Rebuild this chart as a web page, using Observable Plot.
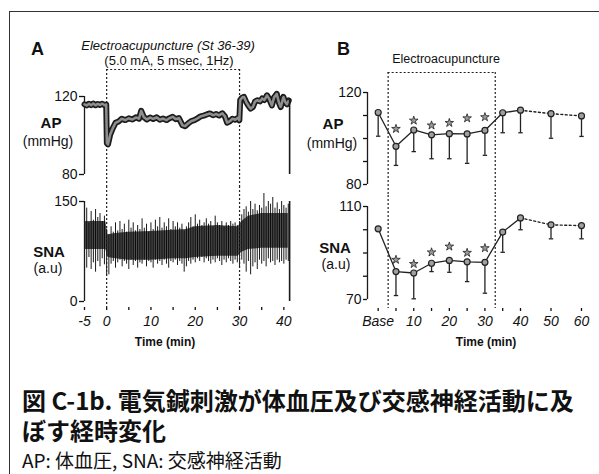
<!DOCTYPE html>
<html><head><meta charset="utf-8">
<script src="https://cdn.jsdelivr.net/npm/d3@7"></script>
<script src="https://cdn.jsdelivr.net/npm/@observablehq/plot@0.6"></script>
<style>
html,body{margin:0;padding:0;background:#fff;}
#wrap{position:relative;width:599px;height:474px;overflow:hidden;font-family:"Liberation Sans",Arial,sans-serif;color:#111;background:#fff;}
#wrap svg{overflow:hidden;}
.t{position:absolute;white-space:nowrap;line-height:1;}
.c{transform:translateX(-50%);}
g[aria-label="x-axis tick label"] text{font-style:italic;}
</style></head><body><div id="wrap"></div>
<script>
// ---------------- DATA ----------------
// Panel A: arterial pressure raw trace [time (min), mmHg]
const apTraceA = [[-5,116],[-4.5,115.4],[-4,116.3],[-3.5,115.6],[-3,116.4],[-2.5,115.5],[-2,116.2],[-1.5,115.7],[-1,116.3],[-0.5,115.6],[-0.1,115.9],
 [0.05,96],[0.3,95.5],[0.8,100.5],[1.4,103.8],[2,106.5],[2.7,107.2],[3.4,108.6],[4.2,107.9],[5,108.8],[5.8,108.2],[6.6,109.3],[7.3,108.6],[7.8,112.6],[8.4,109.4],[9.1,108.2],[9.8,109.2],[10.5,108.5],[11.3,109.3],[12,108.1],[12.7,108.7],[13.5,107.9],[14.2,108.9],[14.9,109.6],[15.6,108.4],[16.3,108.9],[17.1,105.3],[17.7,104.8],[18.4,106.2],[19.1,107.4],[19.8,107.9],[20.5,108.8],[21.2,109.8],[21.9,110.2],[22.6,110.8],[23.3,111.3],[24,110.4],[24.7,111],[25.4,110.3],[26.1,111.4],[26.7,109.8],[27.2,106.6],[27.8,107.3],[28.4,108.6],[29,108.1],[29.6,109],[29.95,107.8],
 [30.15,118.2],[30.6,119.5],[31,119.8],[31.5,117.2],[32,115.3],[32.5,113.8],[33,114.6],[33.5,117.4],[34,118.1],[34.6,117.5],[35.1,119],[35.6,118.2],[36.2,120.6],[36.7,118.7],[37.3,115.4],[37.8,119.6],[38.4,121.3],[38.9,116.8],[39.3,114.6],[39.9,119.8],[40.3,117.2],[40.7,116],[41.1,118]];

// Panel A: sympathetic nerve activity raw trace [time, low, high]
const snaA = [[-5,62,128],[-4.5,50,140],[-4,66,118],[-3.5,48,135],[-3,58,122],[-2.5,44,138],[-2,60,126],[-1.5,52,132],[-1,64,120],[-0.5,55,128],
 [0,38,108],[0.5,40,100],[1,56,112],[1.5,60,104],[2,50,118],[2.5,58,106],[3,62,120],[3.5,52,108],[4,60,116],[4.5,56,104],[5,48,122],[5.5,62,110],[6,54,118],[6.5,60,106],[7,50,114],[7.5,58,108],[8,56,124],[8.5,62,110],[9,52,116],[9.5,60,104],
 [10,58,118],[10.5,50,108],[11,62,122],[11.5,56,112],[12,60,126],[12.5,54,110],[13,62,118],[13.5,56,112],[14,50,124],[14.5,60,108],[15,58,120],[15.5,62,112],[16,54,118],[16.5,60,110],[17,56,116],[17.5,44,106],[18,52,112],[18.5,60,118],[19,56,126],[19.5,62,112],
 [20,58,130],[20.5,64,116],[21,60,122],[21.5,66,114],[22,58,118],[22.5,64,124],[23,60,116],[23.5,56,120],[24,62,112],[24.5,58,128],[25,64,118],[25.5,60,114],[26,54,120],[26.5,62,112],[27,58,118],[27.5,64,114],[28,60,120],[28.5,56,116],[29,62,118],[29.5,58,114],
 [30,50,120],[30.5,62,130],[31,56,138],[31.5,44,142],[32,60,134],[32.5,40,150],[33,52,138],[33.5,58,146],[34,48,136],[34.5,62,144],[35,56,140],[35.5,60,162],[36,52,142],[36.5,64,150],[37,58,146],[37.5,60,156],[38,54,140],[38.5,62,148],[39,58,138],[39.5,60,150],[40,56,144],[40.5,62,140],[41,60,146]];
// dense core of the SNA band [time, low, high]
const snaCoreA = [[-5,78,120],[-0.2,78,120],[0.3,66,100],[2,64,102],[5,62,104],[10,62,105],[15,64,107],[18,64,108],[20,66,112],[25,68,114],[29.7,68,112],[30.5,74,120],[32,78,128],[35,80,132],[38,80,132],[41,80,132]];

const stimA = [0, 30];          // electroacupuncture period (min)
const recordEndA = 41.3;       // end of recording (min)
const xTicksA = [-5,0,5,10,15,20,25,30,35,40];
const xTickLabelsA = ["-5","0","","10","","20","","30","","40"];
const apTicksA = [80,120];
const snaTicksA = [0,150];

// Panel B: group means
const bTime = [0,5,10,15,20,25,30,35,40,50,60];
const bTickLabels = ["Base","","10","","20","","30","","40","50","60"];
const apMean = [111.3,96.6,103.7,101.6,102.1,102.0,103.5,111.2,112.3,110.8,109.8];
const apLow  = [101.0,88.3,94.3,91.2,91.2,89.2,92.7,102.5,102.5,100.1,100.9];
const apStar = [null,104.2,107.8,105.7,106.8,108.8,109.3,null,null,null,null];
const snaMean = [100.4,82.0,81.4,85.6,86.8,86.2,86.0,99.0,105.1,102.1,101.8];
const snaLow  = [null,71.7,70.3,82.0,81.7,77.7,72.7,90.3,100.0,96.1,96.1];
const snaStar = [null,87.1,85.3,90.3,92.8,90.1,92.1,null,null,null,null];
const solidUntil = 40;          // measured line is solid up to 40 min, dotted afterwards
const stimB = [2.8, 32.9];
const apTicksB = [80,90,100,110,120];
const snaTicksB = [70,80,90,100,110];

// ---------------- DRAW ----------------
const wrap = document.getElementById("wrap");
function put(node, left, top){ node.style.position="absolute"; node.style.left=left+"px"; node.style.top=top+"px"; wrap.appendChild(node); }
function txt(s, left, top, css, center){ const d=document.createElement("div"); d.className="t"+(center?" c":""); d.textContent=s; d.style.cssText += css||""; put(d,left,top); return d; }

const style = {fontFamily:"'Liberation Sans', Arial, sans-serif", fontSize:"14px", background:"transparent", color:"#111", overflow:"hidden"};
const ink = "#1a1a1a";
const dash = {stroke:"#222", strokeWidth:1.2, strokeDasharray:"2,2"};
const endLabels = ticks => (d => (d===ticks[0]||d===ticks[ticks.length-1]) ? String(d) : "");
const capSymbol = {draw(ctx, size){ const w=Math.sqrt(size/Math.PI); ctx.moveTo(-w,0); ctx.lineTo(w,0); }};
const lblA = new Map(xTicksA.map((d,i)=>[d, xTickLabelsA[i]]));
const lblB = new Map(bTime.map((d,i)=>[d, bTickLabels[i]]));
const bIdx = bTime.map((_,i)=>i);

const topA = 186; // split between upper (AP) and lower (SNA) plots, panel A
const topB = 195; // same for panel B

// Panel A geometry
const xA = {domain:[-5, 41.5], range:[84, 290]};

// A - AP
put(Plot.plot({
  width:300, height:topA, marginLeft:84, marginRight:10, marginTop:96, marginBottom:topA-174, style,
  x:{...xA, axis:null}, y:{domain:[80,120], axis:null},
  marks:[
    Plot.ruleX([xA.domain[0]], {y1:80, y2:120, stroke:ink, strokeWidth:1.3}),
    Plot.axisY({ticks:apTicksA, tickSize:5, tickPadding:2, tickFormat:d=>String(d), strokeWidth:1.3}),
    Plot.ruleY([120], {x1:stimA[0], x2:stimA[1], dy:-27, ...dash}),
    Plot.ruleX(stimA, {insetTop:-27, insetBottom:-(topA-174), ...dash}),
    Plot.line(apTraceA, {x:d=>d[0], y:d=>d[1], stroke:"#1b1b1b", strokeWidth:6, strokeLinejoin:"round"}),
    Plot.line(apTraceA, {x:d=>d[0], y:d=>d[1], stroke:"#8e8e8e", strokeWidth:2.6, strokeLinejoin:"round", strokeDasharray:"1.5,1"}),
    Plot.ruleX([recordEndA], {y1:80, y2:apTraceA[apTraceA.length-1][1], stroke:ink, strokeWidth:1.6})
  ]
}), 0, 0);

// A - SNA
put(Plot.plot({
  width:300, height:340-topA, marginLeft:84, marginRight:10, marginTop:201-topA, marginBottom:340-307, style,
  x:{...xA}, y:{domain:[0,150], insetBottom:6, axis:null},
  marks:[
    Plot.areaY(snaCoreA, {x:d=>d[0], y1:d=>d[1], y2:d=>d[2], fill:"#4e4e4e"}),
    Plot.ruleX(snaA, {x:d=>d[0], y1:d=>d[1], y2:d=>d[2], stroke:"#000", strokeWidth:0.9}),
    Plot.ruleX([recordEndA], {y1:0, y2:150, stroke:ink, strokeWidth:1.6}),
    Plot.ruleX(stimA, {insetTop:-(201-topA), ...dash}),
    Plot.ruleX([xA.domain[0]], {y1:0, y2:150, stroke:ink, strokeWidth:1.3}),
    Plot.axisY({ticks:snaTicksA, tickSize:5, tickPadding:2, tickFormat:d=>String(d), strokeWidth:1.3}),
    Plot.axisX({ticks:xTicksA, tickFormat:d=>lblA.get(d) ?? "", tickSize:3, tickPadding:6, line:true, strokeWidth:1.3, fontStyle:"italic"})
  ]
}), 0, topA);

// Panel B geometry (piecewise time axis)
const xB = {type:"linear", domain:[-3, 40, 60], range:[67, 220, 281]};

function meanMarks(mean, low, star){
  const solid = bIdx.filter(i => bTime[i] <= solidUntil);
  const dotted = bIdx.filter(i => bTime[i] >= solidUntil);
  const withLow = bIdx.filter(i => low[i] != null);
  const withStar = bIdx.filter(i => star[i] != null);
  return [
    Plot.ruleX(withLow, {x:i=>bTime[i], y1:i=>mean[i], y2:i=>low[i], stroke:"#222", strokeWidth:1.3}),
    Plot.dot(withLow, {x:i=>bTime[i], y:i=>low[i], symbol:capSymbol, r:2.2, stroke:"#222", strokeWidth:1.3, fill:"none"}),
    Plot.line(solid, {x:i=>bTime[i], y:i=>mean[i], stroke:"#222", strokeWidth:1.3}),
    Plot.line(dotted, {x:i=>bTime[i], y:i=>mean[i], stroke:"#222", strokeWidth:1.4, strokeDasharray:"2,2.5"}),
    Plot.dot(bIdx, {x:i=>bTime[i], y:i=>mean[i], r:3, fill:"#a0a0a0", stroke:"#222", strokeWidth:1.2}),
    Plot.dot(withStar, {x:i=>bTime[i], y:i=>star[i], symbol:"star", r:2.7, fill:"#9a9a9a", stroke:"#222", strokeWidth:0.8})
  ];
}

// B - AP
put(Plot.plot({
  width:299, height:topB, marginLeft:67, marginRight:14, marginTop:92, marginBottom:topB-184, style,
  x:{...xB, axis:null}, y:{domain:[80,120], axis:null},
  marks:[
    Plot.ruleX([xB.domain[0]], {y1:80, y2:120, stroke:ink, strokeWidth:1.3}),
    Plot.axisY({ticks:apTicksB, tickSize:4, tickPadding:2, tickFormat:endLabels(apTicksB), strokeWidth:1.3}),
    Plot.ruleY([120], {x1:stimB[0], x2:stimB[1], dy:-20, ...dash}),
    Plot.ruleX(stimB, {insetTop:-20, insetBottom:-(topB-184), ...dash}),
    ...meanMarks(apMean, apLow, apStar)
  ]
}), 300, 0);

// B - SNA
put(Plot.plot({
  width:299, height:340-topB, marginLeft:67, marginRight:14, marginTop:206-topB, marginBottom:340-308, style,
  x:{...xB}, y:{domain:[70,110], insetBottom:9, axis:null},
  marks:[
    Plot.ruleX(stimB, {insetTop:-(206-topB), ...dash}),
    Plot.ruleX([xB.domain[0]], {y1:70, y2:110, stroke:ink, strokeWidth:1.3}),
    Plot.axisY({ticks:snaTicksB, tickSize:4, tickPadding:2, tickFormat:endLabels(snaTicksB), strokeWidth:1.3}),
    Plot.axisX({ticks:bTime, tickFormat:d=>lblB.get(d) ?? "", tickSize:3, tickPadding:5, line:true, strokeWidth:1.3, fontStyle:"italic"}),
    ...meanMarks(snaMean, snaLow, snaStar)
  ]
}), 300, topB);

// ---------------- TEXT ----------------
const frame = document.createElement("div");
frame.style.cssText = "border-top:1px solid #333;border-left:1px solid #333;width:600px;height:480px;";
put(frame, 9, 11);

txt("A", 31, 40, "font-size:18px;font-weight:bold;");
txt("B", 337, 40, "font-size:18px;font-weight:bold;");
txt("Electroacupuncture (St 36-39)", 168, 39, "font-size:13px;font-style:italic;", true);
txt("(5.0 mA, 5 msec, 1Hz)", 169, 54, "font-size:13px;", true);
txt("Electroacupuncture", 446, 53, "font-size:12.5px;", true);
txt("AP", 51, 115, "font-size:15px;font-weight:bold;", true);
txt("(mmHg)", 48, 134, "font-size:14px;", true);
txt("AP", 333, 116, "font-size:15px;font-weight:bold;", true);
txt("(mmHg)", 332, 136, "font-size:14px;", true);
txt("SNA", 49, 244, "font-size:15px;font-weight:bold;", true);
txt("(a.u)", 48, 261, "font-size:14px;", true);
txt("SNA", 335, 240, "font-size:15px;font-weight:bold;", true);
txt("(a.u)", 336, 257, "font-size:14px;", true);
txt("Time (min)", 165, 336, "font-size:12px;font-weight:bold;", true);
txt("Time (min)", 486, 336, "font-size:12px;font-weight:bold;", true);

const cj = "font-family:'Noto Sans CJK JP',sans-serif;";
// caption title: one text that wraps onto a second line
txt("図 C-1b. 電気鍼刺激が体血圧及び交感神経活動に及ぼす経時変化", 22, 385,
    cj+"font-size:24px;font-weight:bold;line-height:30px;white-space:normal;width:566px;");
txt("AP: 体血圧, SNA: 交感神経活動", 22, 450, cj+"font-size:19px;");
</script></body></html>
